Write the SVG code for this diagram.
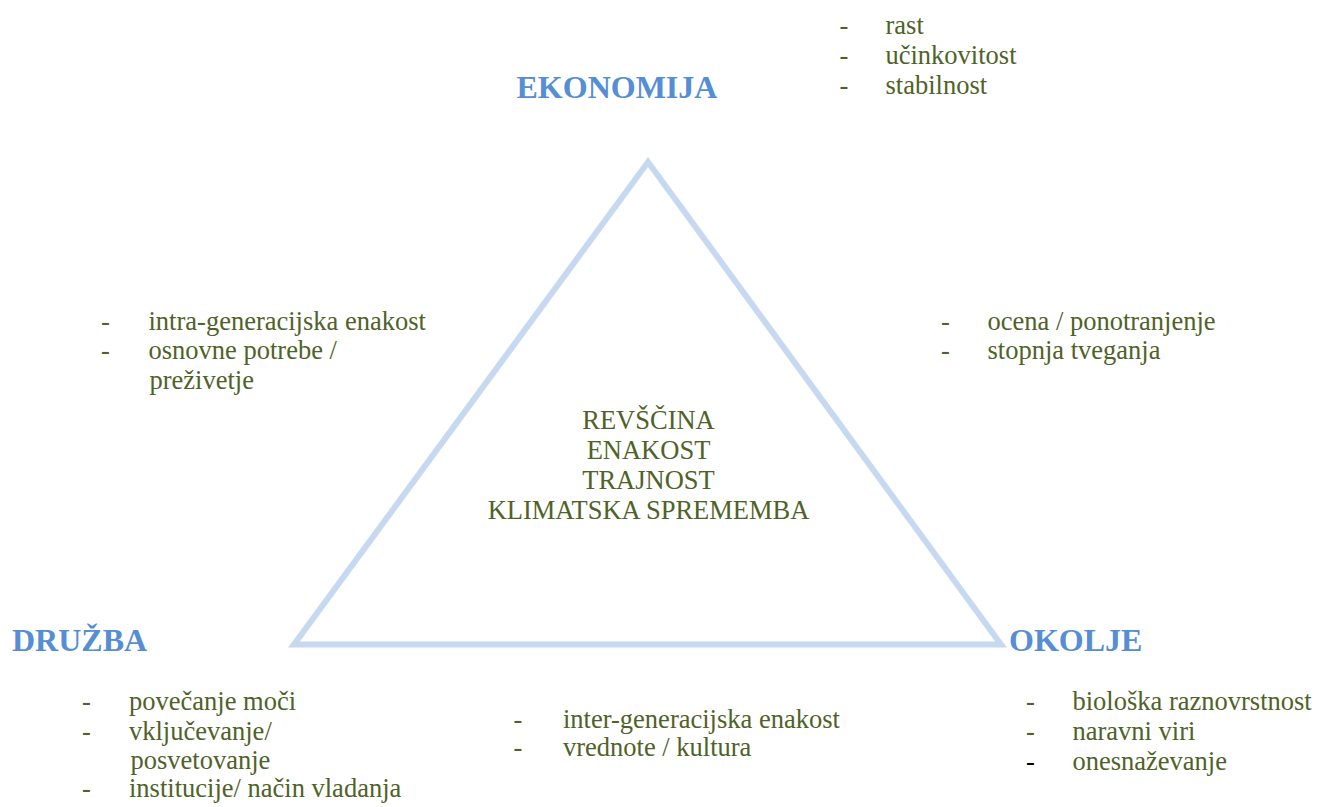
<svg xmlns="http://www.w3.org/2000/svg" width="1317" height="807" viewBox="0 0 1317 807">
<style>
text{font-family:'Liberation Serif','DejaVu Serif',serif}
.t{font-size:26.5px;fill:#4f6228}
.h{font-size:32px;font-weight:bold;fill:#558ed5}
.c{text-anchor:middle}
.k{fill:#000000}
</style>
<rect width="1317" height="807" fill="#ffffff"/>
<g id="connectors">
<polygon points="648,162 1001,644.5 294,644.5" fill="none" stroke="#c6d9f1" stroke-width="6" stroke-linejoin="miter"/>
</g>
<g id="ekonomija" font-family="Liberation Serif, DejaVu Serif, serif">
<text class="h" x="516.5" y="97.5">EKONOMIJA</text>
<text class="t" x="839.5" y="33.5">-</text><text class="t" x="885.5" y="33.5">rast</text>
<text class="t" x="839.5" y="63.5">-</text><text class="t" x="885.5" y="63.5">učinkovitost</text>
<text class="t" x="839.5" y="93.5">-</text><text class="t" x="885.5" y="93.5">stabilnost</text>
</g>
<g id="druzba-okolje-edge" font-family="Liberation Serif, DejaVu Serif, serif">
<text class="t" x="101" y="329.5">-</text><text class="t" x="148.5" y="329.5">intra-generacijska enakost</text>
<text class="t" x="101" y="359">-</text><text class="t" x="148.5" y="359">osnovne potrebe /</text>
<text class="t" x="149.5" y="388.5">preživetje</text>
</g>
<g id="ekonomija-okolje-edge" font-family="Liberation Serif, DejaVu Serif, serif">
<text class="t" x="941" y="329.5">-</text><text class="t" x="987.5" y="329.5">ocena / ponotranjenje</text>
<text class="t" x="941" y="358.5">-</text><text class="t" x="987.5" y="358.5">stopnja tveganja</text>
</g>
<g id="center" font-family="Liberation Serif, DejaVu Serif, serif">
<text class="t c" x="648.5" y="428.5">REVŠČINA</text>
<text class="t c" x="648.5" y="458.5">ENAKOST</text>
<text class="t c" x="648.5" y="488.5">TRAJNOST</text>
<text class="t c" x="648.5" y="519">KLIMATSKA SPREMEMBA</text>
</g>
<g id="druzba" font-family="Liberation Serif, DejaVu Serif, serif">
<text class="h" x="12" y="651">DRUŽBA</text>
<text class="t" x="82" y="710">-</text><text class="t" x="129" y="710">povečanje moči</text>
<text class="t" x="82" y="739.5">-</text><text class="t" x="129" y="739.5">vključevanje/</text>
<text class="t" x="130.5" y="768.5">posvetovanje</text>
<text class="t" x="82" y="797">-</text><text class="t" x="129" y="797">institucije/ način vladanja</text>
</g>
<g id="bottom-edge" font-family="Liberation Serif, DejaVu Serif, serif">
<text class="t" x="513.5" y="727.5">-</text><text class="t" x="563" y="727.5">inter-generacijska enakost</text>
<text class="t" x="513.5" y="756">-</text><text class="t" x="563" y="756">vrednote / kultura</text>
</g>
<g id="okolje" font-family="Liberation Serif, DejaVu Serif, serif">
<text class="h" x="1009" y="651">OKOLJE</text>
<text class="t" x="1026" y="710">-</text><text class="t" x="1072.5" y="710">biološka raznovrstnost</text>
<text class="t" x="1026" y="739.5">-</text><text class="t" x="1072.5" y="739.5">naravni viri</text>
<text class="t k" x="1026" y="769.5">-</text><text class="t" x="1072.5" y="769.5">onesnaževanje</text>
</g>
</svg>
